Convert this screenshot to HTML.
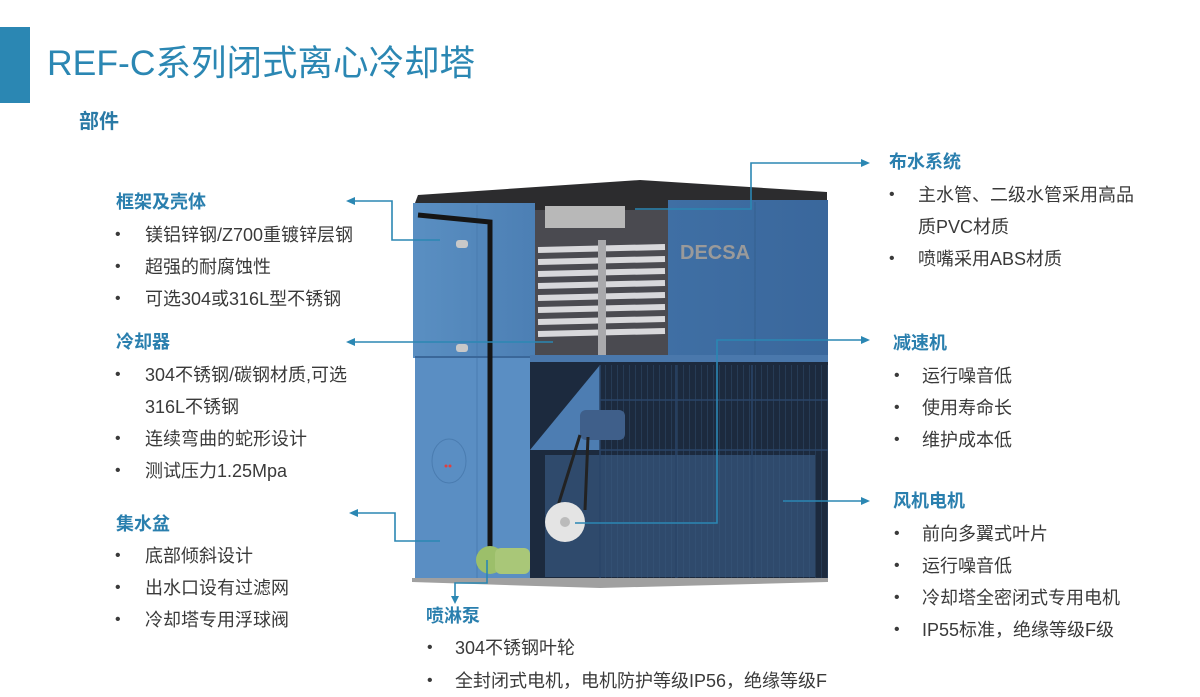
<!DOCTYPE html>
<html><head><meta charset="utf-8">
<style>
html,body{margin:0;padding:0;background:#fff}
body{width:1200px;height:697px;position:relative;overflow:hidden;font-family:"Liberation Sans","Noto Sans CJK SC",sans-serif}
.t{position:absolute;white-space:nowrap;line-height:20px;font-size:18px;color:#3a3a3a}
.h{position:absolute;white-space:nowrap;line-height:20px;font-size:18px;font-weight:bold;color:#2a7fae}
.b{position:absolute;line-height:20px;font-size:16px;color:#3a3a3a}
</style></head><body>
<div style="position:absolute;left:0;top:27px;width:30px;height:76px;background:#2b87b3"></div>
<div style="position:absolute;left:47px;top:41px;font-size:35.5px;line-height:44px;color:#2b87b3;white-space:nowrap">REF-C系列闭式离心冷却塔</div>
<div class="h" style="left:79px;top:110px;font-size:20px;line-height:24px;color:#2a7aa6">部件</div>

<svg width="1200" height="697" style="position:absolute;left:0;top:0">
<defs>
<linearGradient id="lp" x1="0" x2="1"><stop offset="0" stop-color="#5a8fc2"/><stop offset="1" stop-color="#4c7fb4"/></linearGradient>
<linearGradient id="rp" x1="0" x2="1"><stop offset="0" stop-color="#3f6fa4"/><stop offset="1" stop-color="#3a679c"/></linearGradient>
<pattern id="grid" width="6" height="6" patternUnits="userSpaceOnUse"><path d="M6,0 L6,6" stroke="#3a5a80" stroke-width="0.7"/></pattern>
</defs>
<polygon points="415,203 418,195 640,180 827,192 827,203 668,205 668,210 535,210 535,203" fill="#2c2c2e"/>
<rect x="413" y="203" width="122" height="155" fill="url(#lp)"/>
<rect x="415" y="357" width="117" height="222" fill="#5a8ec3"/>
<line x1="477" y1="205" x2="477" y2="578" stroke="#4a7cb0" stroke-width="1"/>
<line x1="415" y1="357" x2="535" y2="357" stroke="#3a6799" stroke-width="2"/>
<path d="M418,215 L490,222 L490,555" stroke="#151515" stroke-width="5" fill="none"/>
<rect x="456" y="240" width="12" height="8" rx="3" fill="#c8c8c8"/>
<rect x="456" y="344" width="12" height="8" rx="3" fill="#c8c8c8"/>
<ellipse cx="449" cy="461" rx="17" ry="22" fill="#5a8ec3" stroke="#4a7cb0"/>
<circle cx="446" cy="466" r="1.5" fill="#e04040"/><circle cx="450" cy="466" r="1.5" fill="#e04040"/>
<rect x="535" y="210" width="133" height="148" fill="#4a4a50"/>
<rect x="545" y="206" width="80" height="22" fill="#b8b8b8"/>
<g stroke="#d8d8db" stroke-width="6">
<line x1="538" y1="250" x2="665" y2="247"/><line x1="538" y1="262" x2="665" y2="259"/>
<line x1="538" y1="274" x2="665" y2="271"/><line x1="538" y1="286" x2="665" y2="283"/>
<line x1="538" y1="298" x2="665" y2="295"/><line x1="538" y1="310" x2="665" y2="307"/>
<line x1="538" y1="322" x2="665" y2="319"/><line x1="538" y1="334" x2="665" y2="331"/>
</g>
<rect x="598" y="240" width="8" height="115" fill="#a9a9ac"/>
<rect x="668" y="200" width="160" height="156" fill="url(#rp)"/>
<line x1="755" y1="202" x2="755" y2="355" stroke="#34608f"/>
<text x="680" y="259" font-family="Liberation Sans" font-weight="bold" font-size="20" fill="#9a9a9a">DECSA</text>
<rect x="530" y="355" width="298" height="10" fill="#4a78ac"/>
<rect x="530" y="362" width="298" height="218" fill="#1c2a3e"/>
<polygon points="530,450 600,365 600,450" fill="#4d7db2"/>
<rect x="545" y="455" width="270" height="122" fill="#2f4a6c"/>
<rect x="600" y="365" width="228" height="213" fill="url(#grid)"/>
<g stroke="#2a4468" stroke-width="1.5">
<line x1="600" y1="365" x2="600" y2="578"/><line x1="676" y1="365" x2="676" y2="578"/><line x1="752" y1="365" x2="752" y2="578"/>
<line x1="600" y1="400" x2="828" y2="400"/><line x1="600" y1="450" x2="828" y2="450"/>
</g>
<rect x="580" y="410" width="45" height="30" rx="6" fill="#3f5f8a"/>
<path d="M580,435 L552,525 M588,437 L585,510" stroke="#222" stroke-width="3"/>
<circle cx="565" cy="522" r="20" fill="#e4e4e4"/>
<circle cx="565" cy="522" r="5" fill="#bbb"/>
<ellipse cx="490" cy="560" rx="14" ry="14" fill="#9cbf6a"/>
<rect x="495" y="548" width="35" height="26" rx="6" fill="#a9c778"/>
<polygon points="412,578 828,578 828,582 600,588 412,582" fill="#a0a0a0"/>
<g stroke="#2b87b3" stroke-width="1.6" fill="none">
<polyline points="354,201 392,201 392,240 440,240"/>
<polyline points="354,342 553,342"/>
<polyline points="357,513 395,513 395,541 440,541"/>
<polyline points="487,560 487,583 455,583 455,597"/>
<polyline points="635,209 751,209 751,163 862,163"/>
<polyline points="862,340 717,340 717,523 575,523"/>
<polyline points="783,501 862,501"/>
</g>
<g fill="#2b87b3">
<polygon points="346,201 355,197 355,205"/>
<polygon points="346,342 355,338 355,346"/>
<polygon points="349,513 358,509 358,517"/>
<polygon points="455,604 451,596 459,596"/>
<polygon points="870,163 861,159 861,167"/>
<polygon points="870,340 861,336 861,344"/>
<polygon points="870,501 861,497 861,505"/>
</g>
</svg>

<div class="h" style="left:116px;top:192px">框架及壳体</div>
<div class="b" style="left:115px;top:225px">•</div><div class="t" style="left:145px;top:225px">镁铝锌钢/Z700重镀锌层钢</div>
<div class="b" style="left:115px;top:257px">•</div><div class="t" style="left:145px;top:257px">超强的耐腐蚀性</div>
<div class="b" style="left:115px;top:289px">•</div><div class="t" style="left:145px;top:289px">可选304或316L型不锈钢</div>

<div class="h" style="left:116px;top:332px">冷却器</div>
<div class="b" style="left:115px;top:365px">•</div><div class="t" style="left:145px;top:365px">304不锈钢/碳钢材质,可选</div>
<div class="t" style="left:145px;top:397px">316L不锈钢</div>
<div class="b" style="left:115px;top:429px">•</div><div class="t" style="left:145px;top:429px">连续弯曲的蛇形设计</div>
<div class="b" style="left:115px;top:461px">•</div><div class="t" style="left:145px;top:461px">测试压力1.25Mpa</div>

<div class="h" style="left:116px;top:514px">集水盆</div>
<div class="b" style="left:115px;top:546px">•</div><div class="t" style="left:145px;top:546px">底部倾斜设计</div>
<div class="b" style="left:115px;top:578px">•</div><div class="t" style="left:145px;top:578px">出水口设有过滤网</div>
<div class="b" style="left:115px;top:610px">•</div><div class="t" style="left:145px;top:610px">冷却塔专用浮球阀</div>

<div class="h" style="left:889px;top:152px">布水系统</div>
<div class="b" style="left:889px;top:185px">•</div><div class="t" style="left:918px;top:185px">主水管、二级水管采用高品</div>
<div class="t" style="left:918px;top:217px">质PVC材质</div>
<div class="b" style="left:889px;top:249px">•</div><div class="t" style="left:918px;top:249px">喷嘴采用ABS材质</div>

<div class="h" style="left:893px;top:333px">减速机</div>
<div class="b" style="left:894px;top:366px">•</div><div class="t" style="left:922px;top:366px">运行噪音低</div>
<div class="b" style="left:894px;top:398px">•</div><div class="t" style="left:922px;top:398px">使用寿命长</div>
<div class="b" style="left:894px;top:430px">•</div><div class="t" style="left:922px;top:430px">维护成本低</div>

<div class="h" style="left:893px;top:491px">风机电机</div>
<div class="b" style="left:894px;top:524px">•</div><div class="t" style="left:922px;top:524px">前向多翼式叶片</div>
<div class="b" style="left:894px;top:556px">•</div><div class="t" style="left:922px;top:556px">运行噪音低</div>
<div class="b" style="left:894px;top:588px">•</div><div class="t" style="left:922px;top:588px">冷却塔全密闭式专用电机</div>
<div class="b" style="left:894px;top:620px">•</div><div class="t" style="left:922px;top:620px">IP55标准，绝缘等级F级</div>

<div class="h" style="left:426px;top:606px">喷淋泵</div>
<div class="b" style="left:427px;top:638px">•</div><div class="t" style="left:455px;top:638px">304不锈钢叶轮</div>
<div class="b" style="left:427px;top:671px">•</div><div class="t" style="left:455px;top:671px">全封闭式电机，电机防护等级IP56，绝缘等级F</div>
</body></html>
